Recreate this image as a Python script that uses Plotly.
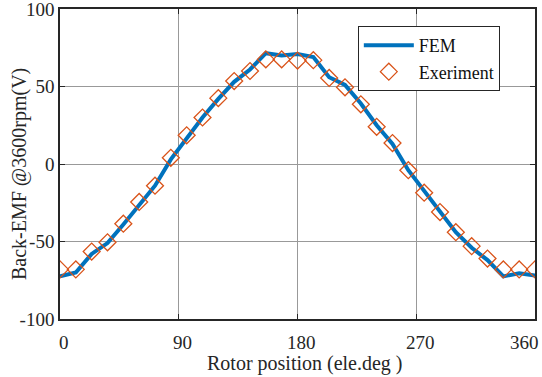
import plotly.graph_objects as go

positions = [0, 12, 24, 36, 48, 60, 72, 84, 96, 108, 120, 132, 144, 156, 168, 180,
             192, 204, 216, 228, 240, 252, 264, 276, 288, 300, 312, 324, 336, 348, 360]
fem = [-72.5, -70, -58, -51, -39, -26, -14, 3, 17, 30, 42, 53, 61, 71.5, 70, 71,
       69, 56, 51, 39, 25, 13, -4, -17, -31, -44, -54, -62, -72.5, -70.5, -72]
experiment = [-68, -68, -56.5, -50.5, -38.5, -24.5, -14, 4, 18.5, 30, 42.5, 53.5, 60, 67.5, 67.5, 66.7,
              67, 55.5, 49.5, 38.5, 24, 13.5, -4, -18.5, -31, -44, -53, -61, -68, -68, -68]
x_ticks = [0, 90, 180, 270, 360]
x_ticktext = ["0", "90", "180", "270", "360"]
y_ticks = [-100, -50, 0, 50, 100]
y_ticktext = ["-100", "-50", "0", "50", "100"]
x_title = "Rotor position (ele.deg )"
y_title = "Back-EMF @3600rpm(V)"

font = "Liberation Serif"
fig = go.Figure()
fig.add_trace(go.Scatter(x=positions, y=fem, mode="lines", name="FEM",
                         line=dict(color="#0072BD", width=4)))
fig.add_trace(go.Scatter(x=positions, y=experiment, mode="markers", name="Exeriment",
                         marker=dict(symbol="diamond-open", size=13, color="#D95319",
                                     line=dict(width=1.3, color="#D95319"))))

axis_common = dict(showgrid=True, gridcolor="#999999", gridwidth=1, zeroline=False,
                   showline=True, linecolor="#262626", linewidth=1.5, mirror="ticks",
                   ticks="inside", ticklen=5, tickcolor="#262626",
                   ticklabeloverflow="allow", automargin=False,
                   tickfont=dict(family=font, size=19, color="#262626"))
fig.update_xaxes(range=[0, 360], tickvals=x_ticks, showticklabels=False, **axis_common)
fig.update_yaxes(range=[-100, 100], tickvals=y_ticks, ticktext=y_ticktext, **axis_common)

# x tick labels placed on the x scale (last one kept inside the picture, as in the reference)
for i, (v, t) in enumerate(zip(x_ticks, x_ticktext)):
    last = i == len(x_ticks) - 1
    fig.add_annotation(text=t, xref="x", yref="paper", x=v, y=-0.077,
                       xanchor="right" if last else "center", yanchor="middle",
                       xshift=6 if last else 4, showarrow=False,
                       font=dict(family=font, size=19, color="#262626"))
fig.add_annotation(text=x_title, xref="paper", yref="paper", x=0.516, y=-0.145,
                   xanchor="center", yanchor="middle", showarrow=False,
                   font=dict(family=font, size=20, color="#262626"))
fig.add_annotation(text=y_title, xref="paper", yref="paper", x=-0.084, y=0.468,
                   xanchor="center", yanchor="middle", showarrow=False, textangle=-90,
                   font=dict(family=font, size=20, color="#262626"))
fig.update_layout(width=542, height=377, margin=dict(l=60, r=7, t=9, b=58),
                  plot_bgcolor="white", paper_bgcolor="white",
                  legend=dict(x=0.627, y=0.945, xanchor="left", yanchor="top",
                              bgcolor="white", bordercolor="#262626", borderwidth=1,
                              font=dict(family=font, size=18, color="#111111"),
                              itemwidth=50, entrywidth=95, tracegroupgap=0),
                  showlegend=True)
fig.write_html("out.html")
